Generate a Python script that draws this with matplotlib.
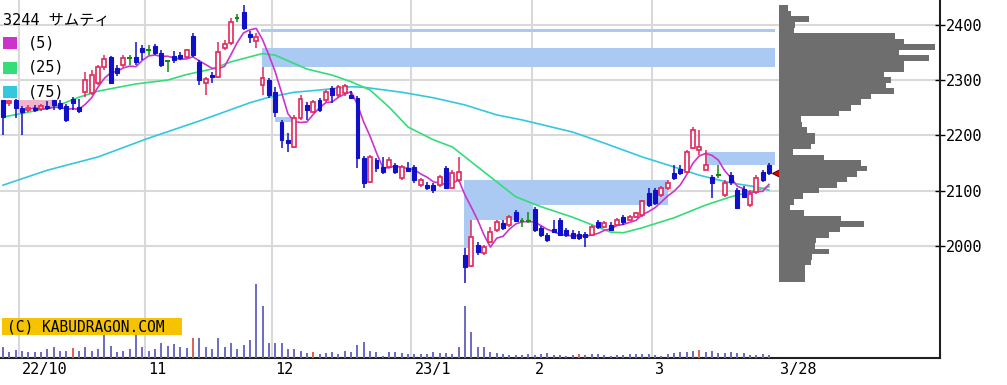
import matplotlib
matplotlib.use("Agg")
import matplotlib.pyplot as plt
import numpy as np
import pandas as pd
from matplotlib.patches import Rectangle

# ---------------- data ----------------
title = "3244 サムティ"
ma_labels = ["(5)", "(25)", "(75)"]
month_labels = ["22/10", "11", "12", "23/1", "2", "3"]
month_start_idx = [3, 23, 43, 65, 84, 103]
last_label = "3/28"

opens = [2264, 2259, 2264, 2250, 2246, 2250, 2248, 2253, 2264, 2259,
         2253, 2266, 2251, 2278, 2277, 2295, 2324, 2342, 2322, 2327,
         2340, 2342, 2358, 2354, 2362, 2349, 2335, 2344, 2345, 2342,
         2380, 2333, 2295, 2309, 2306, 2358, 2367, 2412, 2423, 2383,
         2371, 2291, 2300, 2278, 2224, 2192, 2179, 2231, 2255, 2242,
         2264, 2264, 2286, 2273, 2277, 2273, 2268, 2159, 2116, 2156,
         2143, 2143, 2146, 2123, 2141, 2143, 2110, 2110, 2110, 2110,
         2141, 2105, 2119, 1984, 1964, 2002, 1987, 2007, 2029, 2042,
         2038, 2062, 2045, 2045, 2067, 2033, 2020, 2031, 2047, 2029,
         2024, 2022, 2022, 2020, 2043, 2034, 2038, 2038, 2053, 2047,
         2053, 2056, 2096, 2101, 2092, 2105, 2132, 2139, 2134, 2177,
         2174, 2137, 2125, 2128, 2092, 2128, 2101, 2103, 2074, 2098,
         2134, 2146]
highs = [2264, 2264, 2266, 2253, 2255, 2255, 2257, 2262, 2264, 2264,
         2257, 2269, 2266, 2315, 2318, 2327, 2345, 2344, 2327, 2345,
         2345, 2369, 2363, 2363, 2365, 2354, 2336, 2353, 2351, 2356,
         2385, 2336, 2306, 2315, 2369, 2372, 2412, 2419, 2436, 2389,
         2385, 2324, 2304, 2288, 2228, 2204, 2237, 2273, 2260, 2264,
         2268, 2282, 2289, 2291, 2293, 2280, 2271, 2163, 2165, 2159,
         2161, 2161, 2150, 2146, 2152, 2146, 2123, 2116, 2114, 2128,
         2145, 2137, 2161, 1996, 2047, 2007, 2002, 2034, 2047, 2047,
         2056, 2065, 2051, 2062, 2071, 2036, 2024, 2047, 2051, 2033,
         2029, 2027, 2025, 2038, 2047, 2045, 2043, 2051, 2056, 2056,
         2062, 2083, 2105, 2105, 2109, 2119, 2146, 2146, 2174, 2215,
         2210, 2174, 2128, 2146, 2119, 2134, 2105, 2109, 2101, 2128,
         2137, 2150]
lows = [2201, 2253, 2231, 2201, 2242, 2242, 2244, 2246, 2246, 2246,
        2224, 2246, 2241, 2269, 2273, 2291, 2318, 2293, 2307, 2324,
        2327, 2327, 2336, 2345, 2345, 2324, 2315, 2331, 2336, 2340,
        2342, 2291, 2273, 2295, 2304, 2354, 2363, 2405, 2391, 2367,
        2358, 2273, 2268, 2233, 2177, 2170, 2177, 2228, 2228, 2241,
        2242, 2260, 2259, 2269, 2271, 2266, 2141, 2105, 2114, 2134,
        2130, 2141, 2130, 2119, 2134, 2114, 2107, 2101, 2096, 2107,
        2105, 2105, 2116, 1933, 1962, 1984, 1984, 2005, 2025, 2029,
        2034, 2043, 2034, 2042, 2025, 2016, 2007, 2024, 2018, 2016,
        2013, 2011, 1998, 2018, 2031, 2033, 2027, 2036, 2038, 2045,
        2051, 2053, 2071, 2074, 2089, 2101, 2119, 2128, 2132, 2175,
        2165, 2137, 2087, 2123, 2089, 2110, 2067, 2087, 2071, 2094,
        2116, 2128]
closes = [2233, 2262, 2250, 2242, 2250, 2246, 2253, 2250, 2255, 2250,
          2228, 2259, 2244, 2300, 2309, 2324, 2338, 2295, 2313, 2340,
          2340, 2333, 2351, 2354, 2349, 2327, 2335, 2336, 2340, 2354,
          2345, 2300, 2302, 2306, 2351, 2365, 2405, 2412, 2394, 2378,
          2378, 2304, 2273, 2242, 2192, 2186, 2231, 2266, 2246, 2260,
          2246, 2278, 2273, 2288, 2289, 2268, 2159, 2114, 2161, 2141,
          2134, 2156, 2134, 2143, 2136, 2119, 2119, 2105, 2101, 2125,
          2105, 2132, 2134, 1962, 2016, 1989, 1998, 2025, 2043, 2033,
          2053, 2045, 2045, 2045, 2029, 2020, 2011, 2025, 2020, 2020,
          2015, 2015, 2016, 2034, 2034, 2042, 2029, 2047, 2043, 2053,
          2060, 2081, 2074, 2078, 2105, 2114, 2123, 2132, 2170, 2210,
          2179, 2146, 2114, 2128, 2114, 2116, 2069, 2089, 2094, 2123,
          2119, 2132]
# volume (thousand shares)
volumes = [110, 60, 80, 70, 60, 60, 60, 90, 110, 70,
           70, 100, 70, 110, 70, 90, 230, 120, 60, 70,
           90, 230, 110, 70, 90, 150, 120, 140, 110, 100,
           200, 200, 110, 90, 200, 110, 150, 90, 130, 180,
           740, 520, 150, 150, 150, 90, 90, 70, 50, 60,
           40, 50, 60, 40, 70, 60, 130, 160, 70, 60,
           20, 60, 60, 50, 40, 40, 40, 40, 60, 50,
           50, 40, 110, 520, 260, 110, 110, 60, 50, 40,
           30, 30, 30, 40, 30, 40, 50, 30, 30, 20,
           30, 40, 30, 40, 40, 30, 20, 30, 30, 40,
           40, 40, 40, 30, 20, 40, 50, 60, 60, 70,
           80, 60, 70, 50, 50, 60, 50, 50, 30, 30,
           40, 30]
red_volume_idx = [11, 30, 49, 91, 110]

ma25_idx = [0, 8, 12, 15, 21, 26, 29, 33, 36, 39, 41, 43, 45, 48, 52, 55,
            58, 61, 64, 68, 71, 73, 77, 81, 85, 90, 96, 98, 101, 106, 111,
            115, 119, 121]
ma25_val = [2233, 2251, 2269, 2280, 2293, 2300, 2310, 2320, 2333, 2342,
            2348, 2345, 2335, 2320, 2309, 2297, 2282, 2251, 2215, 2192,
            2179, 2161, 2125, 2089, 2071, 2052, 2025, 2024, 2033, 2051,
            2074, 2089, 2101, 2107]
ma75_idx = [0, 7, 15, 23, 31, 39, 42, 46, 50, 55, 57, 63, 68, 73, 78, 82,
            90, 95, 101, 106, 110, 115, 119, 121]
ma75_val = [2110, 2137, 2161, 2195, 2226, 2259, 2269, 2278, 2282, 2288,
            2287, 2278, 2268, 2255, 2237, 2228, 2206, 2186, 2161, 2143,
            2128, 2114, 2107, 2101]

profile_price = list(range(1940, 2431, 10))
profile_volume = [26, 26, 26, 32, 33, 50, 36, 37, 50, 61,
                  85, 62, 25, 11, 15, 24, 40, 58, 68, 78,
                  88, 82, 45, 14, 32, 36, 36, 28, 23, 22,
                  60, 72, 82, 92, 115, 107, 112, 105, 125, 125,
                  150, 120, 156, 125, 116, 15, 16, 30, 12, 9]

# unfilled gap windows: (start index, end index, low, high)
gap_windows = [(40.8, 122.0, 2387, 2393),
               (40.9, 122.0, 2324, 2358),
               (43.0, 45.8, 2224, 2233),
               (72.8, 105.0, 2074, 2119),
               (72.8, 83.7, 2047, 2074),
               (72.8, 73.9, 1996, 2047),
               (110.9, 122.0, 2146, 2170)]
pink_windows = [(2.7, 7.9, 2251, 2264)]

# ---------------- styles ----------------
RED = "#e3285a"
BLUE = "#1010c8"
GREEN = "#108a10"
C_MA5 = "#cc33cc"
C_MA25 = "#33dd77"
C_MA75 = "#33c8dd"
GRID = "#d9d9d9"
WIN = "#abcaf3"
MONO = ["DejaVu Sans Mono", "Noto Sans CJK JP"]

W, H = 1007, 385
fig = plt.figure(figsize=(W / 100, H / 100), dpi=100)
fig.patch.set_facecolor("white")
ax_left, ax_right, ax_bottom = 0, 940, 358
ax = fig.add_axes([ax_left / W, (H - ax_bottom) / H, (ax_right - ax_left) / W, ax_bottom / H])

n = len(closes)
x = np.arange(n)
O = np.array(opens, float); Hh = np.array(highs, float)
L = np.array(lows, float); C = np.array(closes, float)

px_per_idx = 6.33
ax.set_xlim(-3 / px_per_idx, (940 - 3) / px_per_idx)
ax.set_ylim(1797.5, 2444.8)

# volume on a twin axis (created first so the price ticks can go right afterwards)
axv = ax.twinx()
axv.set_ylim(0, 3580)
vcol = ["#e06050" if i in red_volume_idx else "#6a6ac4" for i in range(n)]
axv.vlines(x, 0, volumes, colors=vcol, lw=1.4)
axv.set_yticks([])
for s in axv.spines.values():
    s.set_visible(False)

# grid
for m in month_start_idx:
    ax.axvline(m - 0.5, color=GRID, lw=1.5, zorder=0)
ax.set_yticks([2000, 2100, 2200, 2300, 2400])
ax.yaxis.grid(True, color=GRID, lw=1.5, zorder=0)
ax.set_axisbelow(True)

# windows
for s, e, lo, hi in gap_windows:
    ax.add_patch(Rectangle((s, lo), e - s, hi - lo, facecolor=WIN, edgecolor="none", zorder=1))
for s, e, lo, hi in pink_windows:
    ax.add_patch(Rectangle((s, lo), e - s, hi - lo, facecolor="#f2b4cc", edgecolor="none", zorder=1))

# moving averages
ma5 = pd.Series(C).rolling(5).mean()
ax.plot(ma75_idx, ma75_val, color=C_MA75, lw=1.2, zorder=2)
ax.plot(ma25_idx, ma25_val, color=C_MA25, lw=1.2, zorder=2)
ax.plot(x, ma5, color=C_MA5, lw=1.2, zorder=2)

# candles
up = C > O
dn = C < O
fl = C == O
wick_col = np.where(up, RED, np.where(dn, BLUE, GREEN))
ax.vlines(x, L, Hh, colors=wick_col, lw=1.1, zorder=3)
ax.bar(x[up], np.maximum(C[up] - O[up], 2), bottom=O[up], width=0.62,
       facecolor="white", edgecolor=RED, lw=1.2, zorder=4)
ax.bar(x[dn], np.maximum(O[dn] - C[dn], 2), bottom=C[dn], width=0.62,
       facecolor=BLUE, edgecolor=BLUE, lw=0.8, zorder=4)
ax.hlines(C[fl], x[fl] - 0.35, x[fl] + 0.35, colors=GREEN, lw=1.5, zorder=4)

# last price marker
ax.plot([n - 1 + 1.4], [C[-1]], marker="<", markersize=9, color="#e00000",
        markeredgecolor="#600000", markeredgewidth=0.8, zorder=6, clip_on=False)

# spines / ticks
for s in ["top", "left"]:
    ax.spines[s].set_visible(False)
for s in ["right", "bottom"]:
    ax.spines[s].set_visible(True)
    ax.spines[s].set_color("#202020")
    ax.spines[s].set_linewidth(1.5)
ax.yaxis.tick_right()
ax.yaxis.set_label_position("right")
ax.tick_params(axis="y", direction="inout", length=7, width=1, pad=1, labelsize=11,
               left=False, labelleft=False, right=True, labelright=True)
for lab in ax.get_yticklabels():
    lab.set_family(MONO)
ax.set_xticks(month_start_idx + [n - 1 + 1.7])
ax.set_xticklabels(month_labels + [last_label], ha="left", family=MONO, fontsize=11)
ax.tick_params(axis="x", length=0, pad=3)
axv.set_xlim(ax.get_xlim())

# volume profile
axp = fig.add_axes([779 / W, (H - ax_bottom) / H, (937 - 779) / W, ax_bottom / H])
axp.set_ylim(ax.get_ylim())
axp.set_xlim(0, 158)
axp.barh(profile_price, profile_volume, height=10, left=0, color="#6e6e6e", align="center")
axp.axis("off")
axp.patch.set_visible(False)

# legend
def fx(px):
    return px / W
def fy(py):
    return 1 - py / H

fig.text(fx(3), fy(20), title, family=MONO, fontsize=11, va="center", ha="left")
for k, (lab, col) in enumerate(zip(ma_labels, [C_MA5, C_MA25, C_MA75])):
    yc = 43 + k * 24.5
    fig.patches.append(Rectangle((fx(3), fy(yc + 6)), 14 / W, 12 / H,
                                 transform=fig.transFigure, facecolor=col, edgecolor="none"))
    fig.text(fx(28), fy(yc), lab, family=MONO, fontsize=11, va="center", ha="left")

# copyright
fig.patches.append(Rectangle((fx(2), fy(335)), 180 / W, 17 / H, transform=fig.transFigure,
                             facecolor="#f5c300", edgecolor="none", zorder=5))
fig.text(fx(7), fy(326.5), "(C) KABUDRAGON.COM", family=MONO, fontsize=10.5,
         va="center", ha="left", zorder=6)

fig.savefig("out.png", dpi=100)
